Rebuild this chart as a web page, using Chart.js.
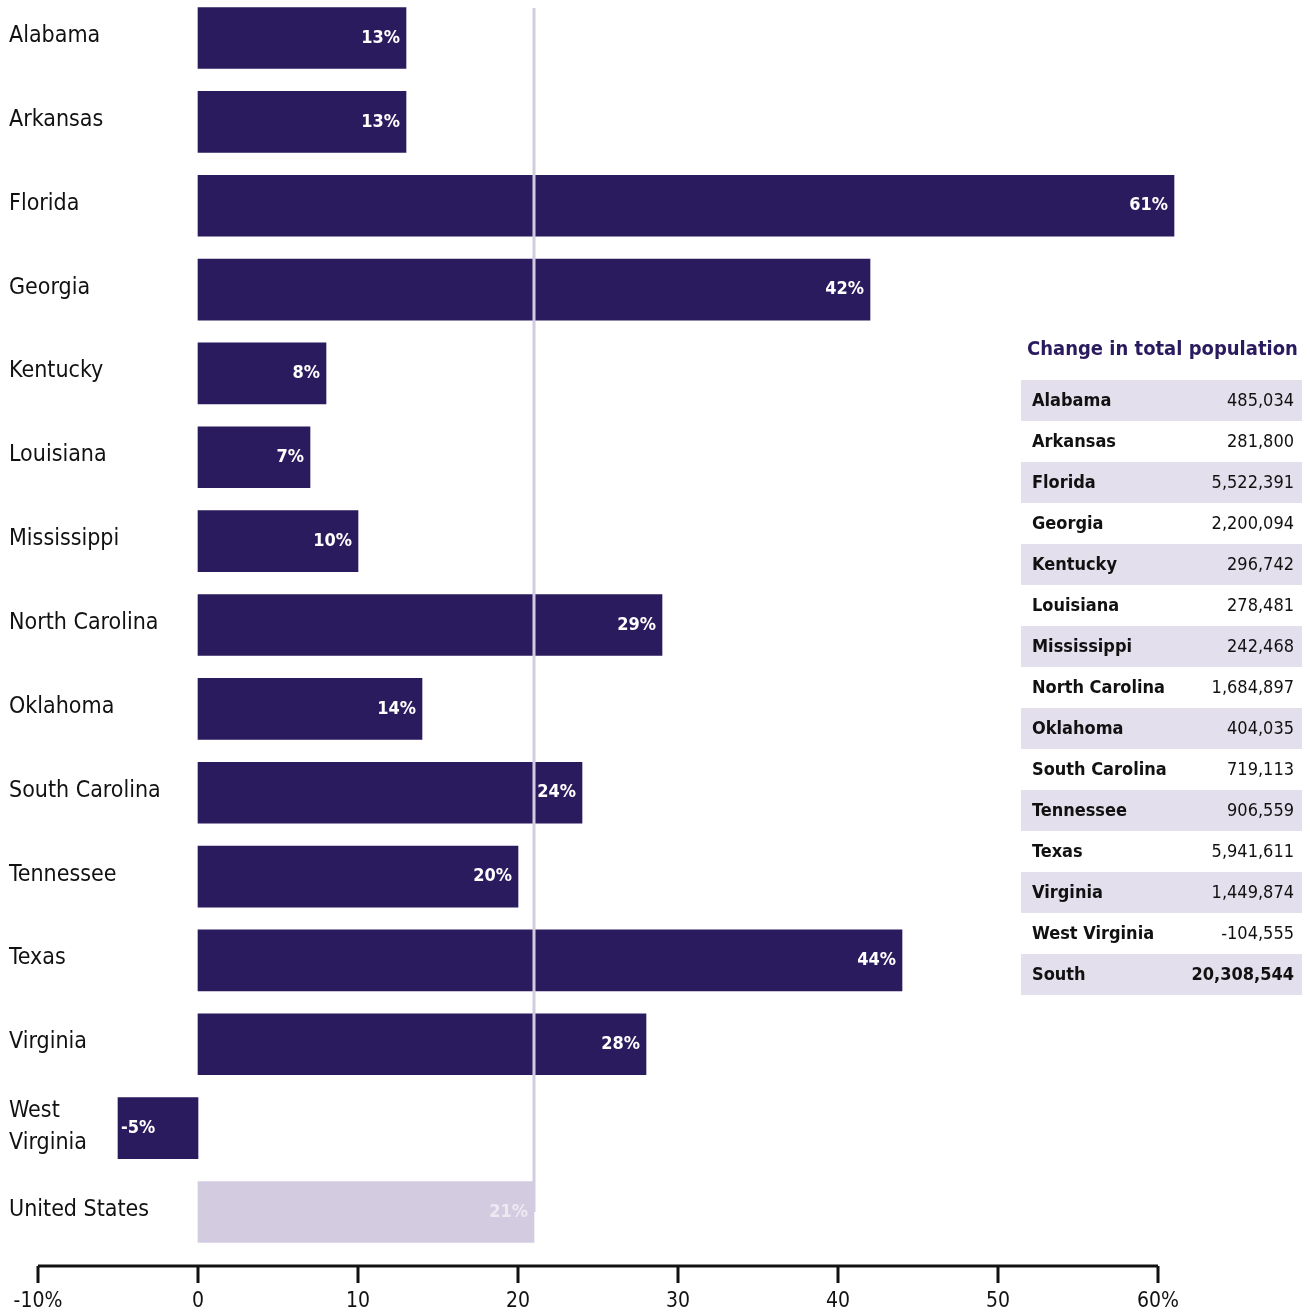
<!DOCTYPE html>
<html>
<head>
<meta charset="utf-8">
<script src="https://cdn.jsdelivr.net/npm/chart.js@4.4.1/dist/chart.umd.min.js"></script>
<style>
  html, body { margin: 0; padding: 0; background: #fff; }
  #wrap { position: relative; width: 1310px; height: 1312px; }
  #chart { position: absolute; left: 0; top: 0; }
  #popTable {
    position: absolute; left: 1021px; top: 334px; width: 281px;
    font-family: 'DejaVu Sans Condensed', 'DejaVu Sans', sans-serif;
    font-stretch: condensed;
    color: #111;
  }
  #popTable h3 {
    margin: 0 0 0 6px; height: 46px; line-height: 28px; font-size: 20px; font-weight: bold;
    color: #2a1a5e; white-space: nowrap;
  }
  #popTable table { border-collapse: collapse; width: 281px; font-size: 18px; }
  #popTable td { height: 38px; padding: 0 8px 3px 11px; white-space: nowrap; }
  #popTable td.n { font-weight: bold; }
  #popTable td.v { text-align: right; }
  #popTable tr.shade td { background: #e3dfec; }
  #popTable tr.total td { font-weight: bold; }
</style>
</head>
<body>
<div id="wrap">
  <canvas id="chart" width="1310" height="1312"></canvas>
  <div id="popTable">
    <h3>Change in total population</h3>
    <table id="popRows"></table>
  </div>
</div>
<script>
// Taux de variation de la population par État (%)
const states = ['Alabama', 'Arkansas', 'Florida', 'Georgia', 'Kentucky', 'Louisiana', 'Mississippi',
  'North Carolina', 'Oklahoma', 'South Carolina', 'Tennessee', 'Texas', 'Virginia',
  ['West', 'Virginia'], 'United States'];
const pctChange = [13, 13, 61, 42, 8, 7, 10, 29, 14, 24, 20, 44, 28, -5, 21];
const usAverage = 21;

// Tableau de droite : variation absolue
const tableNames = ['Alabama', 'Arkansas', 'Florida', 'Georgia', 'Kentucky', 'Louisiana', 'Mississippi',
  'North Carolina', 'Oklahoma', 'South Carolina', 'Tennessee', 'Texas', 'Virginia', 'West Virginia', 'South'];
const tableValues = ['485,034', '281,800', '5,522,391', '2,200,094', '296,742', '278,481', '242,468',
  '1,684,897', '404,035', '719,113', '906,559', '5,941,611', '1,449,874', '-104,555', '20,308,544'];

const FONT = "'DejaVu Sans Condensed', 'DejaVu Sans', sans-serif";
const DARK = '#2a1a5e';
const LIGHT = '#d3cce0';

// Remplir le tableau
const rows = document.getElementById('popRows');
tableNames.forEach((name, i) => {
    const tr = document.createElement('tr');
    if (i % 2 === 0) tr.className = 'shade';
    if (i === tableNames.length - 1) tr.className += ' total';
    tr.innerHTML = `<td class="n">${name}</td><td class="v">${tableValues[i]}</td>`;
    rows.appendChild(tr);
});

// Étiquettes des États, ligne de référence, axe et valeurs
const decorations = {
    id: 'decorations',
    afterDatasetsDraw(chart) {
        const ctx = chart.ctx;
        const x = chart.scales.x;
        const y = chart.scales.y;
        ctx.save();

        // ligne de la moyenne nationale
        const ax = x.getPixelForValue(usAverage);
        ctx.strokeStyle = LIGHT;
        ctx.lineWidth = 3;
        ctx.beginPath();
        ctx.moveTo(ax, y.getPixelForValue(0) - 30);
        ctx.lineTo(ax, y.getPixelForValue(states.length - 1));
        ctx.stroke();

        // noms des États
        ctx.fillStyle = '#111';
        ctx.font = '23px ' + FONT;
        ctx.textAlign = 'left';
        ctx.textBaseline = 'middle';
        states.forEach((s, i) => {
            const cy = y.getPixelForValue(i);
            if (Array.isArray(s)) {
                ctx.fillText(s[0], 9, cy - 17);
                ctx.fillText(s[1], 9, cy + 15);
            } else {
                ctx.fillText(s, 9, cy - 2);
            }
        });

        // valeurs dans les barres
        ctx.font = 'bold 18px ' + FONT;
        pctChange.forEach((v, i) => {
            const cy = y.getPixelForValue(i);
            const last = i === pctChange.length - 1;
            ctx.fillStyle = last ? '#ece9f3' : '#fff';
            if (v < 0) {
                ctx.textAlign = 'left';
                ctx.fillText(v + '%', x.getPixelForValue(v) + 3, cy);
            } else {
                ctx.textAlign = 'right';
                ctx.fillText(v + '%', x.getPixelForValue(v) - 6, cy);
            }
        });

        // axe horizontal
        const axisY = 1266;
        ctx.strokeStyle = '#111';
        ctx.lineWidth = 3;
        ctx.beginPath();
        ctx.moveTo(x.getPixelForValue(x.min), axisY);
        ctx.lineTo(x.getPixelForValue(x.max), axisY);
        x.ticks.forEach(t => {
            const tx = x.getPixelForValue(t.value);
            ctx.moveTo(tx, axisY);
            ctx.lineTo(tx, axisY + 17);
        });
        ctx.stroke();
        ctx.restore();
    }
};

new Chart(document.getElementById('chart'), {
    type: 'bar',
    data: {
        labels: states,
        datasets: [{
            data: pctChange,
            backgroundColor: pctChange.map((v, i) => i === pctChange.length - 1 ? LIGHT : DARK),
            barThickness: 61,
            clip: false
        }]
    },
    options: {
        indexAxis: 'y',
        responsive: false,
        animation: false,
        layout: { padding: { left: 38, right: 152, top: 38, bottom: 0 } },
        plugins: { legend: { display: false }, tooltip: { enabled: false } },
        scales: {
            y: {
                display: false,
                offset: false
            },
            x: {
                min: -10,
                max: 60,
                afterFit: s => {
                    s.height = 100;
                    s.paddingLeft = 0;
                    s.paddingRight = 0;
                },
                grid: { display: false, drawTicks: false },
                border: { display: false },
                ticks: {
                    stepSize: 10,
                    padding: 77,
                    maxRotation: 0,
                    color: '#111',
                    font: { family: FONT, size: 21 },
                    callback: v => v === -10 ? '-10%' : v === 60 ? '60%' : v
                }
            }
        }
    },
    plugins: [decorations]
});
</script>
</body>
</html>
